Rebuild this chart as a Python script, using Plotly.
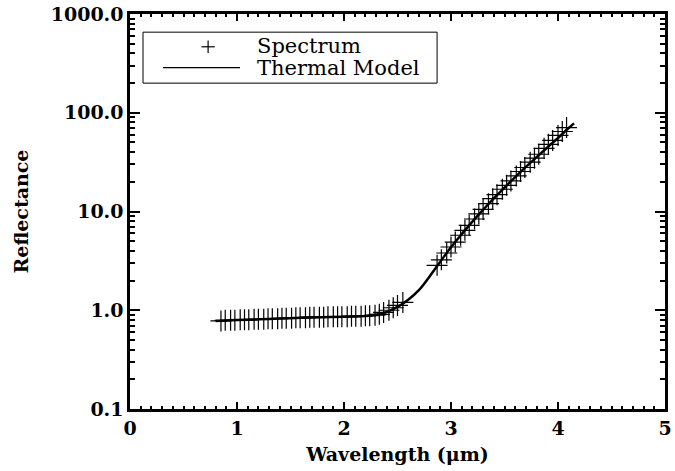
import plotly.graph_objects as go

# Spectrum (measured points)
spec_x = [0.85, 0.89, 0.94, 0.98, 1.03, 1.07, 1.11, 1.16, 1.20, 1.25,
          1.29, 1.33, 1.38, 1.42, 1.46, 1.51, 1.55, 1.59, 1.64, 1.68,
          1.72, 1.77, 1.81, 1.85, 1.90, 1.94, 1.98, 2.03, 2.07, 2.11,
          2.16, 2.20, 2.24, 2.29, 2.33, 2.37, 2.42, 2.46, 2.50, 2.55,
          2.87, 2.91, 2.96, 3.00, 3.04, 3.09, 3.13, 3.17, 3.22, 3.26,
          3.30, 3.35, 3.39, 3.43, 3.48, 3.52, 3.56, 3.61, 3.65, 3.69,
          3.74, 3.78, 3.82, 3.87, 3.91, 3.95, 4.00, 4.04, 4.08]
spec_y = [0.78, 0.79, 0.79, 0.79, 0.80, 0.80, 0.80, 0.81, 0.81, 0.81,
          0.82, 0.82, 0.82, 0.83, 0.83, 0.83, 0.84, 0.84, 0.84, 0.85,
          0.85, 0.85, 0.85, 0.86, 0.86, 0.86, 0.86, 0.86, 0.87, 0.87,
          0.87, 0.88, 0.88, 0.89, 0.91, 0.95, 1.00, 1.06, 1.12, 1.20,
          2.85, 3.24, 3.80, 4.37, 4.90, 5.75, 6.45, 7.25, 8.40, 9.45,
          10.5, 12.0, 13.5, 14.8, 16.8, 18.4, 20.4, 22.9, 25.4, 27.9,
          31.6, 34.7, 38.0, 43.6, 47.9, 52.5, 58.9, 64.6, 70.8]

# Thermal model curve
model_x = [0.80, 1.00, 1.20, 1.40, 1.60, 1.80, 2.00, 2.10, 2.20, 2.30,
           2.40, 2.50, 2.60, 2.70, 2.80, 2.90, 3.00, 3.10, 3.20, 3.30,
           3.40, 3.50, 3.60, 3.70, 3.80, 3.90, 4.00, 4.10, 4.15]
model_y = [0.78, 0.795, 0.81, 0.825, 0.84, 0.85, 0.86, 0.865, 0.875, 0.90,
           0.96, 1.08, 1.28, 1.60, 2.20, 3.10, 4.35, 5.90, 7.90, 10.4,
           13.6, 17.4, 22.3, 28.3, 35.5, 44.5, 55.5, 70.0, 78.0]

legend_labels = ["Spectrum", "Thermal Model"]

y_tickvals = [0.1, 1, 10, 100, 1000]
y_ticktext = ["0.1", "1.0", "10.0", "100.0", "1000.0"]
y_minor = [m * d for d in [0.1, 1, 10, 100] for m in range(2, 10)]
x_tickvals = [0, 1, 2, 3, 4, 5]

FONT = "DejaVu Serif"

fig = go.Figure()
fig.add_trace(go.Scatter(
    x=spec_x, y=spec_y, mode="markers", name=legend_labels[0],
    marker=dict(symbol="cross-thin", size=15, color="black",
                line=dict(color="black", width=1.2)),
))
fig.add_trace(go.Scatter(
    x=model_x, y=model_y, mode="lines", name=legend_labels[1],
    line=dict(color="black", width=2.5, shape="spline"),
))

# Hand-drawn legend box (IDL style), in plot-area paper coordinates
shapes = [
    dict(type="rect", xref="paper", yref="paper", x0=0.0243, x1=0.574,
         y0=0.825, y1=0.954, line=dict(color="black", width=1),
         fillcolor="white", layer="above"),
    # plus symbol
    dict(type="line", xref="paper", yref="paper", x0=0.1335, x1=0.1585,
         y0=0.917, y1=0.917, line=dict(color="black", width=1.2)),
    dict(type="line", xref="paper", yref="paper", x0=0.146, x1=0.146,
         y0=0.901, y1=0.933, line=dict(color="black", width=1.2)),
    # line sample
    dict(type="line", xref="paper", yref="paper", x0=0.0617, x1=0.2056,
         y0=0.864, y1=0.864, line=dict(color="black", width=1.2)),
]
annotations = [
    dict(text=legend_labels[0], xref="paper", yref="paper", x=0.2336, y=0.920,
         xanchor="left", yanchor="middle", showarrow=False,
         font=dict(family=FONT, size=21, color="black")),
    dict(text=legend_labels[1], xref="paper", yref="paper", x=0.2336, y=0.864,
         xanchor="left", yanchor="middle", showarrow=False,
         font=dict(family=FONT, size=21, color="black")),
]

fig.update_layout(
    width=675, height=471,
    margin=dict(l=130, r=10, t=14, b=62, autoexpand=False),
    paper_bgcolor="white", plot_bgcolor="white",
    font=dict(family=FONT, color="black"),
    showlegend=False,
    shapes=shapes, annotations=annotations,
)

fig.update_xaxes(
    range=[0, 5], tickmode="array", tickvals=x_tickvals, automargin=False,
    ticks="inside", ticklen=7, tickwidth=2, tickcolor="black",
    showline=True, linewidth=2.5, linecolor="black", mirror="allticks",
    showgrid=False, zeroline=False,
    tickfont=dict(family=FONT, size=19, color="black", weight="bold"),
    title=dict(text="Wavelength (μm)", standoff=11,
               font=dict(family=FONT, size=19, color="black", weight="bold")),
    minor=dict(ticks="inside", ticklen=3, tickwidth=1.5, tickcolor="black",
               dtick=0.1, showgrid=False),
)
fig.update_yaxes(
    type="log", range=[-1, 3], tickmode="array", tickvals=y_tickvals,
    ticktext=y_ticktext, automargin=False,
    ticks="inside", ticklen=10, tickwidth=2, tickcolor="black",
    showline=True, linewidth=2.5, linecolor="black", mirror="allticks",
    showgrid=False, zeroline=False,
    tickfont=dict(family=FONT, size=19, color="black", weight="bold"),
    title=dict(text="Reflectance", standoff=18,
               font=dict(family=FONT, size=19, color="black", weight="bold")),
    minor=dict(ticks="inside", ticklen=5, tickwidth=1.5, tickcolor="black",
               tickmode="array", tickvals=y_minor, showgrid=False),
)

fig.write_html("out.html", config={"displayModeBar": False},
               post_script="document.body.style.margin='0';")
